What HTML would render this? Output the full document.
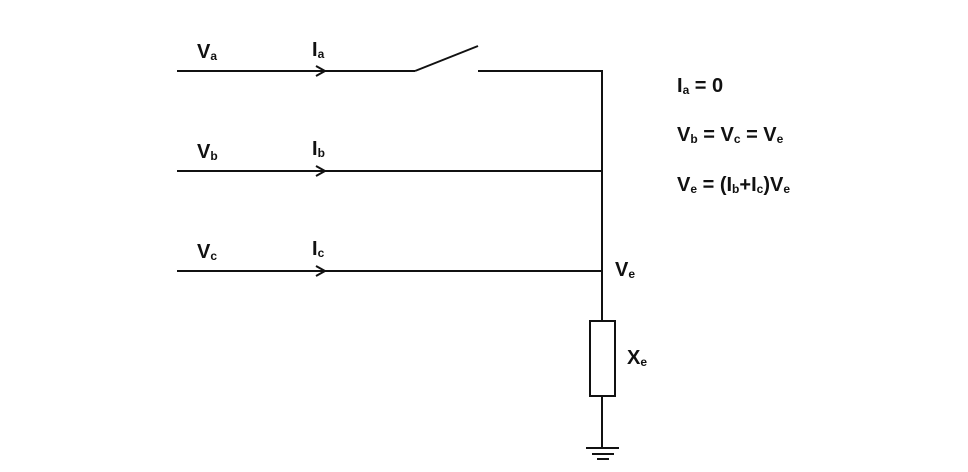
<!DOCTYPE html>
<html><head><meta charset="utf-8"><style>
html,body{margin:0;padding:0;background:#fff;}
svg{display:block}
text{font-family:"Liberation Sans",Arial,sans-serif;font-weight:bold;font-size:20px;fill:#111}
.s{font-size:12px}
</style></head><body>
<svg width="968" height="472" viewBox="0 0 968 472" xmlns="http://www.w3.org/2000/svg">
<g stroke="#111" stroke-width="2" fill="none">
<line x1="177" y1="71" x2="415" y2="71"/>
<line x1="415" y1="71" x2="478" y2="46"/>
<line x1="478" y1="71" x2="603" y2="71"/>
<line x1="177" y1="171" x2="603" y2="171"/>
<line x1="177" y1="271" x2="603" y2="271"/>
<line x1="602" y1="70" x2="602" y2="321"/>
<rect x="590" y="321" width="25" height="75"/>
<line x1="602" y1="396" x2="602" y2="448"/>
<line x1="586" y1="448" x2="619" y2="448"/>
<line x1="592" y1="454" x2="614" y2="454"/>
<line x1="597" y1="459" x2="609" y2="459"/>
<polyline points="316,66 325,71 316,76"/>
<polyline points="316,166 325,171 316,176"/>
<polyline points="316,266 325,271 316,276"/>
</g>
<text x="197" y="58">V<tspan class="s" dy="2">a</tspan></text>
<text x="312" y="56">I<tspan class="s" dy="2">a</tspan></text>
<text x="197" y="158">V<tspan class="s" dy="2">b</tspan></text>
<text x="312" y="155">I<tspan class="s" dy="2">b</tspan></text>
<text x="197" y="258">V<tspan class="s" dy="2">c</tspan></text>
<text x="312" y="255">I<tspan class="s" dy="2">c</tspan></text>
<text x="615" y="276">V<tspan class="s" dy="2">e</tspan></text>
<text x="627" y="364">X<tspan class="s" dy="2">e</tspan></text>
<text x="677" y="92">I<tspan class="s" dy="2">a</tspan><tspan dy="-2"> = 0</tspan></text>
<text x="677" y="141">V<tspan class="s" dy="2">b</tspan><tspan dy="-2"> = V</tspan><tspan class="s" dy="2">c</tspan><tspan dy="-2"> = V</tspan><tspan class="s" dy="2">e</tspan></text>
<text x="677" y="191">V<tspan class="s" dy="2">e</tspan><tspan dy="-2"> = (I</tspan><tspan class="s" dy="2">b</tspan><tspan dy="-2">+I</tspan><tspan class="s" dy="2">c</tspan><tspan dy="-2">)V</tspan><tspan class="s" dy="2">e</tspan></text>
</svg>
</body></html>
